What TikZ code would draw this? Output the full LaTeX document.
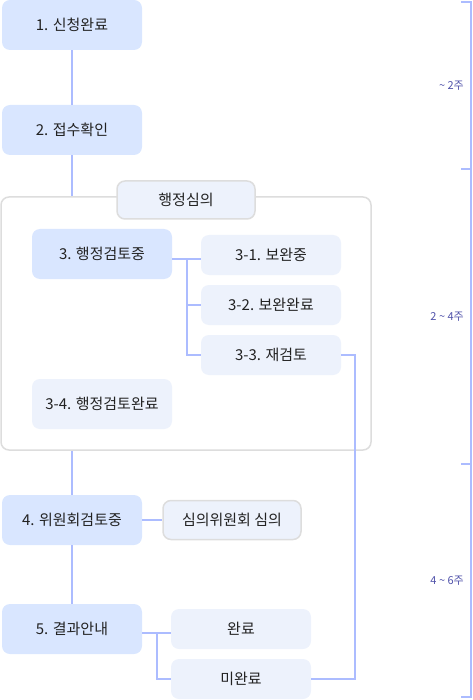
\documentclass[tikz,border=0pt]{standalone}
\usepackage{fontspec}
\setmainfont{Noto Sans CJK KR}
\usetikzlibrary{calc,positioning}
\definecolor{stepblue}{RGB}{217,230,255}
\definecolor{subblue}{RGB}{237,242,252}
\definecolor{linkblue}{RGB}{172,188,255}
\definecolor{edgegray}{RGB}{221,221,221}
\definecolor{weekblue}{RGB}{80,82,170}
\definecolor{textdark}{RGB}{34,34,34}
\tikzset{
  stepbox/.style={rectangle, rounded corners=8pt, fill=stepblue, minimum width=140pt,
    minimum height=50pt, inner sep=0pt, text=textdark, font=\fontsize{15}{17}\selectfont},
  subbox/.style={stepbox, fill=subblue, minimum height=40pt},
  tagbox/.style={subbox, draw=edgegray, line width=1.5pt, minimum width=138pt, minimum height=38pt},
  groupbox/.style={rectangle, rounded corners=8pt, draw=edgegray, line width=1.5pt, fill=white,
    minimum width=370pt, minimum height=253pt},
  link/.style={draw=linkblue, line width=1.5pt},
  bracket/.style={draw=linkblue, line width=2pt},
  week/.style={anchor=east, text=weekblue, font=\fontsize{11}{13}\selectfont, inner sep=0pt}
}

\begin{document}
\begin{tikzpicture}[x=1pt,y=-1pt]
  \useasboundingbox (0,0) rectangle (472,700);
  \def\bx{470.5} % x of week bracket
  \def\tk{9.5}   % length of bracket tick
  % main column
  \node[stepbox] (n1) at (72,25) {1. 신청완료};
  \node[stepbox] (n2) at (72,130) {2. 접수확인};
  \node[groupbox] (review) at (186,323.5) {};
  \node[tagbox] (reviewtag) at (186,200) {행정심의};
  \node[stepbox] (n3) at (102,254) {3. 행정검토중};
  \node[subbox] (n31) at (271,255) {3-1. 보완중};
  \node[subbox] (n32) at (271,305) {3-2. 보완완료};
  \node[subbox] (n33) at (271,355) {3-3. 재검토};
  \node[subbox, minimum height=50pt] (n34) at (102,404) {3-4. 행정검토완료};
  \node[stepbox] (n4) at (72,520) {4. 위원회검토중};
  \node[tagbox, minimum height=39pt] (board) at (232,520) {심의위원회 심의};
  \node[stepbox] (n5) at (72,629) {5. 결과안내};
  \node[subbox] (done) at (241,629) {완료};
  \node[subbox] (notdone) at (241,679) {미완료};
  % connectors
  \coordinate (b3) at (187,259);
  \coordinate (b5) at (157,633);
  \draw[link] (n1.south) -- (n2.north);
  \draw[link] (n2.south) -- (n2.south |- review.north);
  \draw[link] (n3.east |- b3) -- (n31.west |- b3);
  \draw[link] (b3) |- (n32.west);
  \draw[link] (b3) |- (n33.west);
  \draw[link] (n33.east) -- ++(14,0) |- (notdone.east);
  \draw[link] (n4.north |- review.south) -- (n4.north);
  \draw[link] (n4.east) -- (board.west);
  \draw[link] (n4.south) -- (n5.north);
  \draw[link] (n5.east |- b5) -- (done.west |- b5);
  \draw[link] (b5) |- (notdone.west);
  % week bracket
  \draw[bracket] (\bx-\tk,2) -- (\bx,2) -- (\bx,697) -- (\bx-\tk,697);
  \foreach \y in {169,464}
    \draw[bracket] (\bx-\tk,\y) -- (\bx,\y);
  \node[week] (w1) at (464,85.5) {\textasciitilde{} 2주};
  \node[week] (w2) at (464,317) {2 \textasciitilde{} 4주};
  \node[week] (w3) at (464,581) {4 \textasciitilde{} 6주};
\end{tikzpicture}
\end{document}
